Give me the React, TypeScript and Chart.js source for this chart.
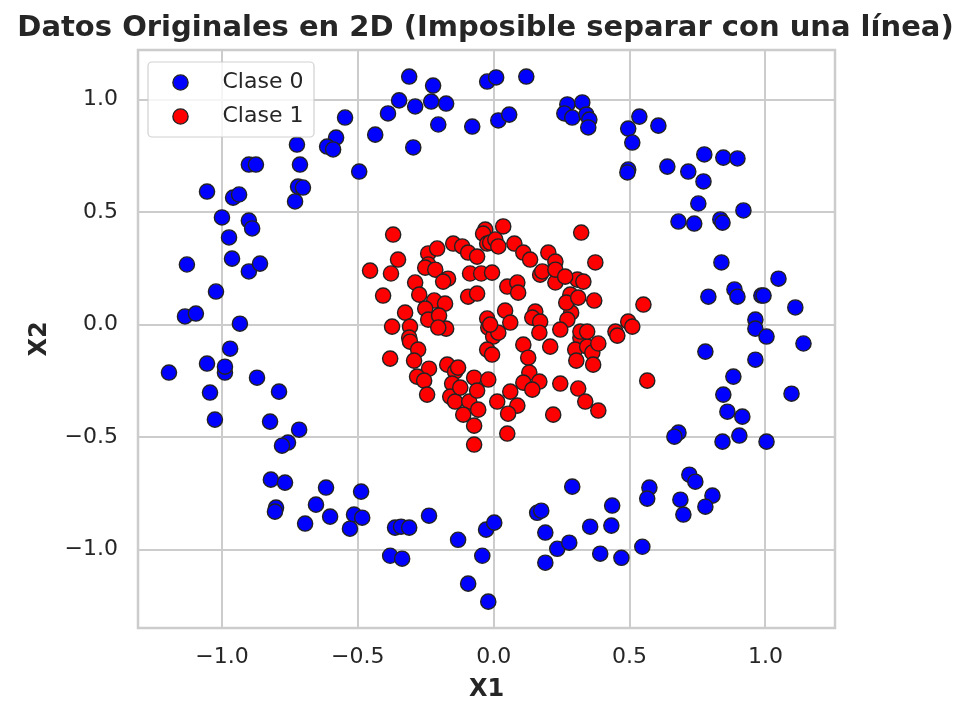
import React, { useEffect, useRef } from 'react';
import { Chart, registerables } from 'chart.js';

Chart.register(...registerables);

const TITLE = 'Datos Originales en 2D (Imposible separar con una línea)';
const X_LABEL = 'X1';
const Y_LABEL = 'X2';
const SERIES_NAMES = ['Clase 0', 'Clase 1'];
const SERIES_COLORS = ['#0000ff', '#ff0000'];
const X_TICKS = [-1.0, -0.5, 0.0, 0.5, 1.0];
const Y_TICKS = [-1.0, -0.5, 0.0, 0.5, 1.0];
const X_RANGE = [-1.309, 1.256];
const Y_RANGE = [-1.348, 1.22];

const class0X = [
  -0.311, -0.223, -0.024, 0.009, 0.120, -0.348, -0.289, -0.230, -0.175, -0.389,
  -0.547, -0.204, -0.079, 0.017, 0.057, -0.436, -0.296, -0.580, -0.613, -0.591,
  -0.724, -0.495, -0.713, -0.901, -0.875, -0.720, -0.702, -0.731, -1.055, -0.959,
  -0.937, -1.000, -0.901, -0.889, -0.974, -1.129, -0.963, -0.901, -0.860, -1.022,
  -1.136, -1.096, -0.934, -0.970, -1.195, -1.055, -0.989, -0.989, -0.871, -1.044,
  -0.790, -1.026, -0.823, -0.716, -0.757, -0.779, -0.820, -0.768, -0.617, -0.488,
  -0.801, -0.805, -0.654, -0.602, -0.694, -0.514, -0.484, -0.529, -0.363, -0.341,
  -0.311, -0.238, -0.381, -0.337, -0.131, -0.028, 0.002, -0.042, -0.094, -0.020,
  0.271, 0.260, 0.289, 0.326, 0.341, 0.352, 0.348, 0.536, 0.606, 0.495,
  0.510, 0.495, 0.492, 0.639, 0.775, 0.845, 0.897, 0.716, 0.772, 0.753,
  0.919, 0.680, 0.738, 0.834, 0.842, 0.838, 1.048, 0.790, 0.886, 0.897,
  0.985, 0.993, 1.110, 0.963, 0.963, 1.004, 1.140, 0.779, 0.963, 0.882,
  0.845, 1.096, 0.860, 0.915, 0.680, 0.665, 0.904, 0.842, 1.004, 0.289,
  0.720, 0.742, 0.573, 0.565, 0.805, 0.779, 0.687, 0.698, 0.436, 0.160,
  0.175, 0.355, 0.433, 0.190, 0.234, 0.278, 0.547, 0.392, 0.470, 0.190,
];
const class0Y = [
  1.102, 1.062, 1.080, 1.098, 1.102, 0.996, 0.969, 0.991, 0.982, 0.938,
  0.920, 0.889, 0.880, 0.907, 0.933, 0.844, 0.787, 0.831, 0.791, 0.778,
  0.800, 0.680, 0.711, 0.711, 0.711, 0.613, 0.609, 0.547, 0.591, 0.564,
  0.578, 0.476, 0.462, 0.427, 0.387, 0.267, 0.293, 0.236, 0.271, 0.147,
  0.036, 0.049, 0.004, -0.107, -0.213, -0.173, -0.213, -0.187, -0.236, -0.302,
  -0.298, -0.422, -0.431, -0.467, -0.524, -0.538, -0.689, -0.702, -0.724, -0.742,
  -0.813, -0.831, -0.800, -0.853, -0.884, -0.844, -0.858, -0.907, -0.902, -0.898,
  -0.902, -0.849, -1.027, -1.040, -0.956, -0.911, -0.880, -1.027, -1.151, -1.231,
  0.978, 0.938, 0.920, 0.987, 0.933, 0.911, 0.876, 0.924, 0.884, 0.871,
  0.809, 0.689, 0.676, 0.702, 0.756, 0.742, 0.738, 0.680, 0.636, 0.538,
  0.507, 0.458, 0.449, 0.467, 0.453, 0.276, 0.204, 0.124, 0.156, 0.124,
  0.129, 0.129, 0.076, 0.022, -0.018, -0.053, -0.084, -0.120, -0.156, -0.231,
  -0.311, -0.307, -0.387, -0.409, -0.480, -0.498, -0.493, -0.520, -0.520, -0.720,
  -0.667, -0.698, -0.724, -0.773, -0.760, -0.809, -0.778, -0.844, -0.804, -0.836,
  -0.827, -0.898, -0.893, -0.924, -0.996, -0.969, -0.987, -1.018, -1.036, -1.058,
];

const class1X = [
  -0.370, -0.352, -0.455, -0.378, -0.407, -0.241, -0.208, -0.149, -0.116, -0.094,
  -0.061, -0.031, -0.039, -0.024, -0.241, -0.252, -0.215, -0.168, -0.186, -0.289,
  -0.094, -0.061, -0.087, -0.046, -0.006, -0.274, -0.219, -0.179, -0.252, -0.326,
  -0.374, -0.308, -0.241, -0.201, -0.175, -0.204, -0.024, -0.020, -0.002, 0.017,
  -0.311, -0.308, -0.278, -0.293, -0.238, -0.282, -0.256, -0.245, -0.171, -0.142,
  -0.131, -0.153, -0.160, -0.142, -0.123, -0.090, -0.072, -0.061, -0.020, -0.057,
  -0.112, -0.072, -0.072, -0.024, -0.006, 0.013, 0.050, 0.087, 0.090, 0.042,
  0.061, 0.153, 0.142, 0.171, 0.168, 0.109, 0.127, 0.208, 0.171, 0.227,
  0.282, 0.285, 0.271, 0.245, 0.308, 0.330, 0.319, 0.300, 0.304, 0.344,
  0.131, 0.168, 0.109, 0.142, 0.061, 0.087, 0.053, 0.245, 0.311, 0.337,
  0.219, 0.035, 0.322, -0.013, 0.006, 0.017, 0.076, 0.109, 0.134, 0.201,
  0.227, 0.374, 0.179, 0.227, 0.263, 0.267, 0.311, 0.370, -0.013, 0.319,
  0.344, 0.448, 0.495, 0.551, 0.510, 0.455, 0.565, 0.363, 0.385, 0.366,
  0.385, 0.050, -0.381,
];
const class1Y = [
  0.400, 0.289, 0.240, 0.227, 0.129, 0.316, 0.338, 0.360, 0.347, 0.320,
  0.302, 0.422, 0.404, 0.360, 0.267, 0.253, 0.244, 0.204, 0.191, 0.187,
  0.124, 0.138, 0.227, 0.227, 0.231, 0.133, 0.107, 0.093, 0.071, 0.053,
  -0.009, -0.009, 0.022, 0.040, -0.018, -0.013, 0.027, -0.013, -0.053, -0.036,
  -0.058, -0.076, -0.111, -0.160, -0.196, -0.231, -0.249, -0.311, -0.178, -0.209,
  -0.191, -0.262, -0.320, -0.342, -0.280, -0.342, -0.236, -0.293, -0.244, -0.378,
  -0.400, -0.449, -0.533, -0.111, -0.133, -0.342, 0.169, 0.187, 0.142, 0.062,
  0.009, 0.058, 0.031, 0.013, -0.036, -0.089, -0.147, -0.098, 0.222, 0.187,
  0.133, 0.053, 0.022, -0.022, 0.200, 0.191, -0.058, -0.111, -0.160, -0.098,
  -0.213, -0.253, -0.258, -0.289, -0.298, -0.360, -0.396, -0.262, -0.284, -0.342,
  -0.400, 0.436, 0.409, 0.364, 0.378, 0.347, 0.360, 0.320, 0.289, 0.320,
  0.280, 0.276, 0.236, 0.244, 0.213, 0.098, 0.120, 0.107, 0.000, -0.031,
  -0.031, -0.031, 0.013, 0.089, -0.009, -0.049, -0.249, -0.124, -0.084, -0.178,
  -0.382, -0.484, -0.151,
];

const FONT = "'DejaVu Sans', 'Liberation Sans', sans-serif";
const TEXT_COLOR = '#262626';
const GRID_COLOR = '#cccccc';
const EDGE_COLOR = '#222222';
const POINT_RADIUS = 7.6;
const POINT_BORDER = 1.4;

const fmt = (v: number) => {
  const s = Number(v).toFixed(1);
  return s.startsWith('-') ? '\u2212' + s.slice(1) : s;
};

const framePlugin = {
  id: 'axesFrame',
  beforeDatasetsDraw(chart: any) {
    const { ctx, chartArea } = chart;
    ctx.save();
    ctx.strokeStyle = GRID_COLOR;
    ctx.lineWidth = 2.5;
    ctx.strokeRect(chartArea.left, chartArea.top, chartArea.right - chartArea.left, chartArea.bottom - chartArea.top);
    ctx.restore();
  },
};

const titlePlugin = {
  id: 'figTitle',
  afterDraw(chart: any) {
    const { ctx, width } = chart;
    ctx.save();
    ctx.fillStyle = TEXT_COLOR;
    ctx.font = `bold 29px ${FONT}`;
    ctx.textAlign = 'center';
    ctx.textBaseline = 'middle';
    ctx.fillText(TITLE, width / 2, 28);
    ctx.restore();
  },
};

const legendPlugin = {
  id: 'innerLegend',
  afterDraw(chart: any) {
    const { ctx, chartArea } = chart;
    const x = chartArea.left + 10;
    const y = chartArea.top + 12;
    const w = 166;
    const h = 75;
    ctx.save();
    ctx.beginPath();
    (ctx as any).roundRect(x, y, w, h, 4);
    ctx.fillStyle = 'rgba(255,255,255,0.8)';
    ctx.fill();
    ctx.strokeStyle = 'rgba(204,204,204,0.9)';
    ctx.lineWidth = 1.2;
    ctx.stroke();
    SERIES_NAMES.forEach((name, i) => {
      const cy = y + 20.5 + i * 34;
      const cx = x + 32.5;
      ctx.beginPath();
      ctx.arc(cx, cy, POINT_RADIUS, 0, Math.PI * 2);
      ctx.fillStyle = SERIES_COLORS[i];
      ctx.fill();
      ctx.lineWidth = POINT_BORDER;
      ctx.strokeStyle = EDGE_COLOR;
      ctx.stroke();
      ctx.fillStyle = TEXT_COLOR;
      ctx.font = `22px ${FONT}`;
      ctx.textBaseline = 'middle';
      ctx.textAlign = 'left';
      ctx.fillText(name, x + 74.5, cy);
    });
    ctx.restore();
  },
};

export default function App() {
  const canvasRef = useRef<HTMLCanvasElement | null>(null);

  useEffect(() => {
    document.body.style.margin = '0';
    const canvas = canvasRef.current;
    if (!canvas) return;
    const toPoints = (xs: number[], ys: number[]) => xs.map((x, i) => ({ x, y: ys[i] }));
    const chart = new Chart(canvas, {
      type: 'scatter',
      data: {
        datasets: [
          {
            label: SERIES_NAMES[0],
            data: toPoints(class0X, class0Y),
            backgroundColor: SERIES_COLORS[0],
            borderColor: EDGE_COLOR,
            borderWidth: POINT_BORDER,
            pointRadius: POINT_RADIUS,
            pointHoverRadius: POINT_RADIUS,
            order: 1,
          },
          {
            label: SERIES_NAMES[1],
            data: toPoints(class1X, class1Y),
            backgroundColor: SERIES_COLORS[1],
            borderColor: EDGE_COLOR,
            borderWidth: POINT_BORDER,
            pointRadius: POINT_RADIUS,
            pointHoverRadius: POINT_RADIUS,
            order: 0,
          },
        ],
      },
      options: {
        responsive: false,
        animation: false,
        devicePixelRatio: 1,
        layout: { padding: { left: 0, right: 136, top: 50, bottom: 0 } },
        plugins: {
          legend: { display: false },
          tooltip: { enabled: false },
          title: { display: false },
        },
        scales: {
          x: {
            type: 'linear',
            min: X_RANGE[0],
            max: X_RANGE[1],
            afterBuildTicks: (scale: any) => {
              scale.ticks = X_TICKS.map((v) => ({ value: v }));
            },
            afterFit: (scale: any) => {
              scale.height = 90;
            },
            ticks: {
              callback: (v: any) => fmt(v),
              color: TEXT_COLOR,
              font: { family: FONT, size: 22 },
              padding: 16,
              maxRotation: 0,
            },
            grid: { color: GRID_COLOR, lineWidth: 2, drawTicks: false },
            border: { display: false },
            title: {
              display: true,
              text: X_LABEL,
              color: TEXT_COLOR,
              font: { family: FONT, size: 24, weight: 'bold' },
              padding: { top: 0, bottom: 14 },
            },
          },
          y: {
            type: 'linear',
            min: Y_RANGE[0],
            max: Y_RANGE[1],
            afterBuildTicks: (scale: any) => {
              scale.ticks = Y_TICKS.map((v) => ({ value: v }));
            },
            afterFit: (scale: any) => {
              scale.width = 138;
            },
            ticks: {
              callback: (v: any) => fmt(v),
              color: TEXT_COLOR,
              font: { family: FONT, size: 22 },
              padding: 20,
            },
            grid: { color: GRID_COLOR, lineWidth: 2, drawTicks: false },
            border: { display: false },
            title: {
              display: true,
              text: Y_LABEL,
              color: TEXT_COLOR,
              font: { family: FONT, size: 24, weight: 'bold' },
              padding: { top: 25, bottom: 0 },
            },
          },
        },
      },
      plugins: [framePlugin, legendPlugin, titlePlugin],
    } as any);
    return () => chart.destroy();
  }, []);

  return (
    <div style={{ position: 'absolute', left: 0, top: 0, width: 971, height: 718, background: '#ffffff' }}>
      <canvas ref={canvasRef} width={971} height={718} />
    </div>
  );
}
